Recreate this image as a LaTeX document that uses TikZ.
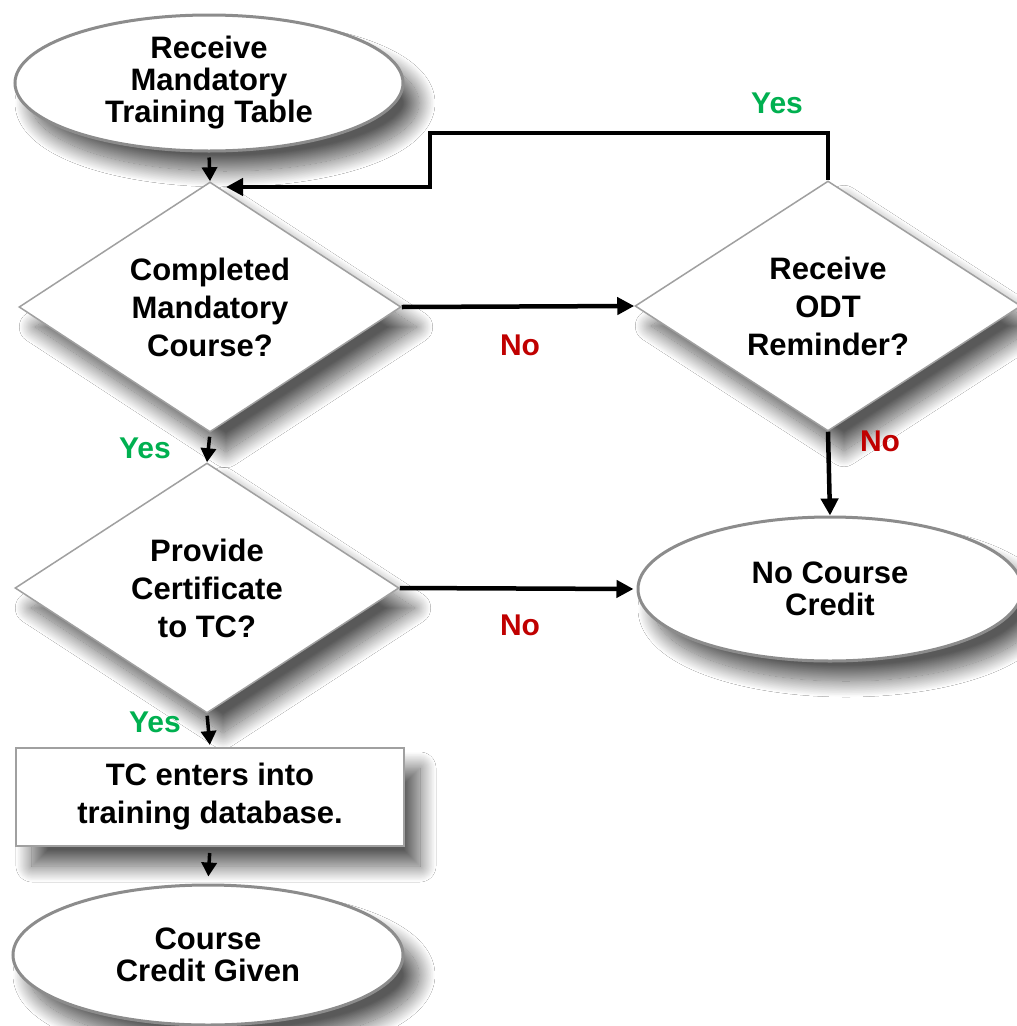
\documentclass[tikz,border=0pt]{standalone}
\usepackage{fontspec}
\setmainfont{Liberation Sans}
\usetikzlibrary{shapes.geometric,arrows.meta,shadows.blur}
\definecolor{yesgreen}{HTML}{00B050}
\definecolor{nored}{HTML}{C00000}
\definecolor{edgegray}{HTML}{8C8C8C}
\definecolor{diagray}{HTML}{A0A0A0}
\begin{document}
\begin{tikzpicture}[x=1pt,y=-1pt,
  shadowed/.style={blur shadow={shadow xshift=16pt,shadow yshift=-20pt,shadow blur radius=16pt,shadow blur steps=25,shadow opacity=65}},
  term/.style={ellipse,draw=edgegray,line width=3pt,fill=white,shadowed,inner sep=0pt,align=center,
    font=\fontsize{31}{32}\selectfont\bfseries},
  decide/.style={diamond,aspect=1.52,draw=diagray,line width=1.5pt,fill=white,shadowed,inner sep=0pt,
    minimum width=382pt,minimum height=250pt,align=center,font=\fontsize{31}{38}\selectfont\bfseries},
  procbox/.style={rectangle,draw=diagray,line width=2pt,fill=white,shadowed,inner sep=0pt,
    minimum width=388pt,minimum height=98pt,align=center,font=\fontsize{31}{38}\selectfont\bfseries},
  yeslbl/.style={text=yesgreen,font=\fontsize{30}{32}\selectfont\bfseries,inner sep=0pt},
  nolbl/.style={text=nored,font=\fontsize{30}{32}\selectfont\bfseries,inner sep=0pt},
  arr/.style={line width=3.5pt,-{Triangle[length=14pt,width=15pt]}},
  arrthick/.style={line width=4.5pt,-{Triangle[length=17pt,width=17pt]}}
]
\useasboundingbox (0,0) rectangle (1017,1026);
\fill[white] (0,0) rectangle (1017,1026);

\node[term,minimum width=388pt,minimum height=136pt] (start) at (209,83) {Receive\\Mandatory\\Training Table};
\node[decide] (d1) at (210,307) {Completed\\Mandatory\\Course?};
\node[decide,minimum width=386pt] (d2) at (828,306) {Receive\\ODT\\Reminder?};
\node[decide,minimum width=384pt] (d3) at (207,588) {Provide\\Certificate\\to TC?};
\node[term,minimum width=384pt,minimum height=144pt] (ncc) at (830,589) {No Course\\Credit};
\node[procbox] (tc) at (210,797) {TC enters into\\training database.};
\node[term,minimum width=390pt,minimum height=140pt] (given) at (208,955) {Course\\Credit Given};

\coordinate (lp1) at (430,133);
\coordinate (lp2) at (430,187);
\coordinate (lpin) at (226,187);

\draw[arr,shorten <=5pt] (start.south) -- (d1.north);
\draw[arr,shorten <=4pt] (d1.south) -- (d3.north);
\draw[arr,shorten <=2pt,shorten >=2pt] (d3.south) -- (tc.north);
\draw[arr,shorten <=6pt,shorten >=7pt] (tc.south) -- (given.north);
\draw[arrthick] (d1.east) -- (d2.west);
\draw[arrthick,shorten >=3pt] (d3.east) -- (ncc.west);
\draw[arrthick] (d2.south) -- (ncc.north);
\draw[arrthick] (d2.north) |- (lp1) -- (lp2) -- (lpin);

\node[yeslbl] (y1) at (777,103) {Yes};
\node[nolbl] (n1) at (520,345) {No};
\node[nolbl] (n2) at (880,441) {No};
\node[yeslbl] (y2) at (145,448) {Yes};
\node[nolbl] (n3) at (520,625) {No};
\node[yeslbl] (y3) at (155,722) {Yes};
\end{tikzpicture}
\end{document}
